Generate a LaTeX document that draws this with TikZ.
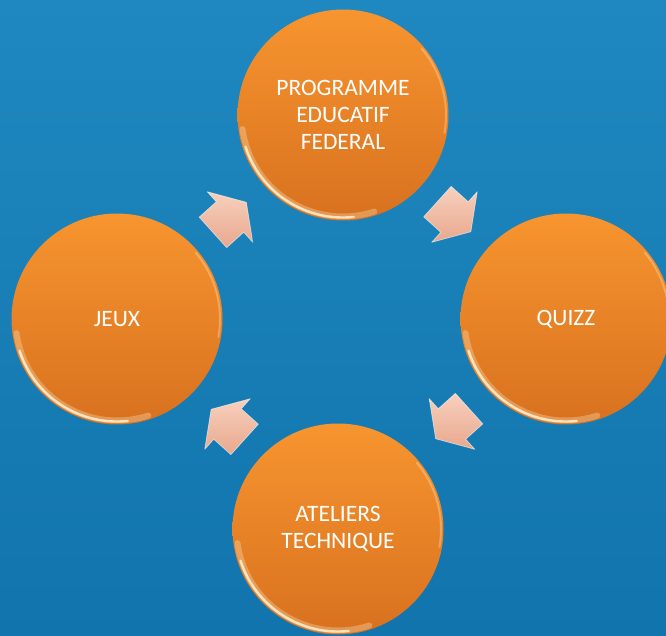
\documentclass[tikz,border=0pt]{standalone}
\usepackage{fontspec}
\setmainfont{Carlito}
\usetikzlibrary{calc}
\definecolor{bgtop}{HTML}{1F88C0}
\definecolor{bgbot}{HTML}{1274AC}
\definecolor{orTop}{HTML}{F7952F}
\definecolor{orBot}{HTML}{D8711F}
\definecolor{arLight}{HTML}{F8D0BD}
\definecolor{arDark}{HTML}{E8A88D}
\definecolor{glow}{HTML}{FFF2D2}
\tikzset{
  stage/.style={circle, minimum size=211pt, inner sep=0pt, top color=orTop, bottom color=orBot,
    text=white, font=\fontsize{23.5}{27}\selectfont, align=center},
  rimwide/.style={draw=glow, line width=6pt, opacity=0.3, line cap=round},
  rimthin/.style={draw=glow, line width=2.4pt, opacity=0.85, line cap=round},
  rimfaint/.style={draw=glow, line width=2pt, opacity=0.3, line cap=round},
  blockarr/.style={top color=arLight, bottom color=arDark, draw=white, draw opacity=0.55,
    line width=0.7pt, line join=round},
}
\newcommand\cyclearrow[3]{%
  \path[blockarr, shift={($(#1)!0.5!(#2)$)}, rotate=#3]
    (-23,-20.5) -- (0,-20.5) -- (0,-34) -- (22,0) -- (0,34) -- (0,20.5) -- (-23,20.5) -- cycle;}
\newcommand\stagerim[1]{%
  \draw[rimwide] ([shift={(188:101.5pt)}]#1.center) arc[start angle=188, end angle=288, radius=101.5pt];
  \draw[rimthin] ([shift={(198:102.5pt)}]#1.center) arc[start angle=198, end angle=276, radius=102.5pt];
  \draw[rimfaint] ([shift={(-10:103pt)}]#1.center) arc[start angle=-10, end angle=40, radius=103pt];}
\begin{document}
\begin{tikzpicture}[x=1pt,y=-1pt]
\useasboundingbox (0,0) rectangle (666,635);
\begin{scope}
  \clip (0,0) rectangle (666,635);
  \shade[top color=bgtop, bottom color=bgbot] (0,0) rectangle (666,635);
  \node[stage] (prog) at (343,115) {PROGRAMME\\EDUCATIF\\FEDERAL};
  \node[stage] (quizz) at (566,319) {QUIZZ};
  \node[stage] (atel) at (338,529) {ATELIERS\\TECHNIQUE};
  \node[stage] (jeux) at (117,319) {JEUX};
  \stagerim{prog}
  \stagerim{quizz}
  \stagerim{atel}
  \stagerim{jeux}
  \cyclearrow{jeux}{prog}{42}
  \cyclearrow{prog}{quizz}{-42}
  \cyclearrow{quizz}{atel}{-138}
  \cyclearrow{atel}{jeux}{138}
\end{scope}
\end{tikzpicture}
\end{document}
